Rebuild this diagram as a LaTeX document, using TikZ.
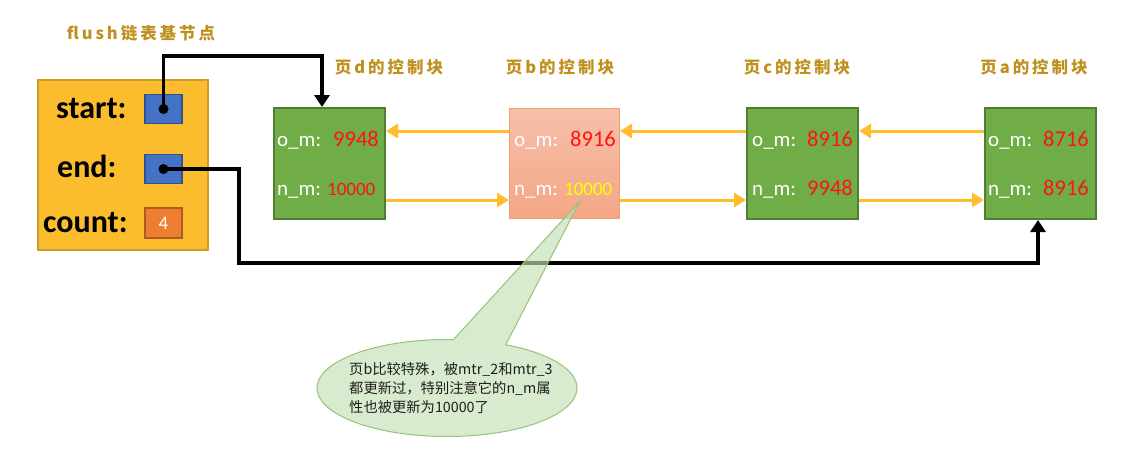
\documentclass[tikz,border=0pt]{standalone}
\usepackage{fontspec}
\setmainfont{Carlito}
\newfontfamily\cjk{Noto Sans CJK SC}
\newfontfamily\cjkt[LetterSpace=18]{Noto Sans CJK SC}
\usetikzlibrary{arrows.meta,shapes.callouts}
\definecolor{ybfill}{RGB}{251,189,45}
\definecolor{ybdraw}{RGB}{205,155,40}
\definecolor{pblue}{RGB}{68,114,196}
\definecolor{pbdraw}{RGB}{47,82,143}
\definecolor{corange}{RGB}{237,125,49}
\definecolor{codraw}{RGB}{174,90,33}
\definecolor{ggreen}{RGB}{112,173,71}
\definecolor{gdraw}{RGB}{80,126,50}
\definecolor{ptop}{RGB}{246,192,170}
\definecolor{pbot}{RGB}{244,166,134}
\definecolor{pdraw}{RGB}{240,160,110}
\definecolor{linky}{RGB}{255,189,45}
\definecolor{gold}{RGB}{191,144,30}
\definecolor{vred}{RGB}{255,20,20}
\definecolor{vyel}{RGB}{255,255,0}
\definecolor{cfill}{RGB}{197,224,180}
\definecolor{cdraw}{RGB}{150,195,120}
\definecolor{ntext}{RGB}{30,30,30}
\begin{document}
\begin{tikzpicture}[x=1pt,y=-1pt,
  basebox/.style={draw=ybdraw,fill=ybfill,line width=2pt,minimum width=170,minimum height=170,anchor=north west},
  ptrbox/.style={draw=pbdraw,fill=pblue,line width=1.5pt,minimum width=37,minimum height=29,inner sep=0pt},
  cntbox/.style={draw=codraw,fill=corange,line width=1.5pt,minimum width=37,minimum height=30,inner sep=0pt,text=white,font=\fontsize{19}{22}\selectfont},
  gbox/.style={draw=gdraw,fill=ggreen,line width=2pt,minimum width=111,minimum height=111,anchor=north west},
  pbox/.style={draw=pdraw,top color=ptop,bottom color=pbot,line width=1pt,minimum width=110,minimum height=110,anchor=north west},
  fld/.style={inner sep=0pt,anchor=base west,text=white,font=\fontsize{21}{25}\selectfont},
  bigval/.style={inner sep=0pt,anchor=base west,text=vred,font=\fontsize{22.5}{26}\selectfont},
  smval/.style={inner sep=0pt,anchor=base west,text=vred,font=\fontsize{19}{22}\selectfont},
  lbl/.style={inner sep=0pt,anchor=base west,font=\fontsize{32}{36}\selectfont\bfseries},
  ttl/.style={inner sep=0pt,text=gold,font=\fontsize{16.5}{20}\selectfont\cjkt\bfseries},
  link/.style={draw=linky,line width=3pt,-{Triangle[length=12pt,width=14pt]}},
  blk/.style={draw=black,line width=3.2pt,-{Triangle[length=12pt,width=15pt]}},
  note/.style={ellipse callout,draw=cdraw,fill=cfill,fill opacity=0.65,line width=1pt,
    minimum width=260,minimum height=97,inner sep=0pt,callout pointer arc=24},
  notetext/.style={align=left,inner sep=0pt,text=ntext,font=\fontsize{14.3}{19}\selectfont\cjk}
]
\useasboundingbox (0,0) rectangle (1144,456);

% titles
\node[ttl] (t0) at (141,33) {flush链表基节点};
\node[ttl] (t1) at (389,67) {页d的控制块};
\node[ttl] (t2) at (560,67) {页b的控制块};
\node[ttl] (t3) at (797,67) {页c的控制块};
\node[ttl] (t4) at (1034,67) {页a的控制块};

% base node
\node[basebox] (base) at (37,79) {};
\node[lbl] (ls) at (56,118) {start:};
\node[lbl] (le) at (57,177) {end:};
\node[lbl] (lc) at (43,232) {count:};
\node[ptrbox] (sp) at (163.5,109) {};
\node[ptrbox] (ep) at (163.5,169) {};
\node[cntbox] (cnt) at (163.5,223) {4};

% control blocks
\node[gbox] (d) at (273,107) {};
\node[pbox] (b) at (509,108) {};
\node[gbox] (c) at (746,107) {};
\node[gbox] (a) at (984,107) {};

\node[fld] (dom) at (277,146) {o\_m:};
\node[bigval] (dov) at (333,146) {9948};
\node[fld] (dnm) at (277,195) {n\_m:};
\node[smval] (dnv) at (327,195) {10000};

\node[fld] (bom) at (514,146) {o\_m:};
\node[bigval] (bov) at (570,146) {8916};
\node[fld] (bnm) at (514,195) {n\_m:};
\node[smval,text=vyel] (bnv) at (564,195) {10000};

\node[fld] (com) at (752,146) {o\_m:};
\node[bigval] (cov) at (807,146) {8916};
\node[fld] (cnm) at (752,195) {n\_m:};
\node[bigval] (cnv) at (807,195) {9948};

\node[fld] (aom) at (988,146) {o\_m:};
\node[bigval] (aov) at (1043,146) {8716};
\node[fld] (anm) at (988,195) {n\_m:};
\node[bigval] (anv) at (1043,195) {8916};

% yellow links
\coordinate (up) at (0,131);
\coordinate (lo) at (0,200);
\draw[link] (b.west |- up) -- (d.east |- up);
\draw[link] (d.east |- lo) -- (b.west |- lo);
\draw[link] (c.west |- up) -- (b.east |- up);
\draw[link] (b.east |- lo) -- (c.west |- lo);
\draw[link] (a.west |- up) -- (c.east |- up);
\draw[link] (c.east |- lo) -- (a.west |- lo);

% black pointers
\coordinate (s1) at (322,56);
\draw[blk] (sp.center) |- (s1) -- (s1 |- d.north);
\coordinate (e1) at (239,263);
\coordinate (e2) at (1038,263);
\draw[blk] (ep.center) -| (e1) -- (e2) -- (e2 |- a.south);
\fill (sp.center) circle (5);
\fill (ep.center) circle (5);

% callout
\coordinate (tip) at (580,201);
\node[note,callout absolute pointer={(tip)}] (n) at (447,388) {};
\node[notetext,anchor=north west] (nt) at (349,362)
  {页b比较特殊，被mtr\_2和mtr\_3\\都更新过，特别注意它的n\_m属\\性也被更新为10000了};
\end{tikzpicture}
\end{document}
